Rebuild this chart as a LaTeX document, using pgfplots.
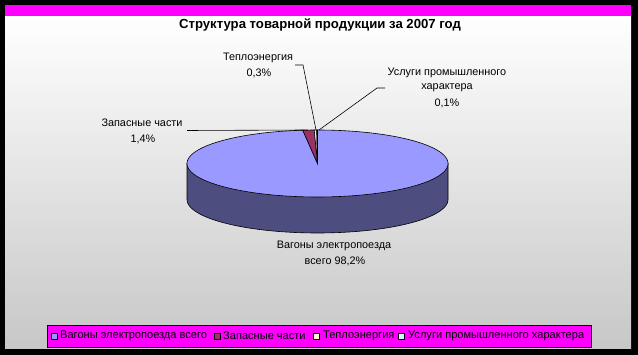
\documentclass[border=0pt]{standalone}
\usepackage{pgfplots}
\pgfplotsset{compat=1.18}
\usepackage{pgfplotstable}
\usepackage{fontspec}
\setmainfont{Liberation Sans}
\definecolor{wag}{HTML}{9999FF}
\definecolor{wagside}{HTML}{4D4D80}
\definecolor{parts}{HTML}{993366}
\definecolor{heat}{HTML}{FFFFCC}
\definecolor{serv}{HTML}{CCFFFF}
\definecolor{mag}{HTML}{FF00FF}
\pgfplotstableread{
id value
0 98.2
1 1.4
2 0.3
3 0.1
}\piedata
\begin{document}
\begin{tikzpicture}
\pgfplotstablegetelem{0}{value}\of\piedata \let\vA\pgfplotsretval
\pgfplotstablegetelem{1}{value}\of\piedata \let\vB\pgfplotsretval
\pgfplotstablegetelem{2}{value}\of\piedata \let\vC\pgfplotsretval
\pgfplotstablegetelem{3}{value}\of\piedata \let\vD\pgfplotsretval
\pgfmathsetmacro\aA{90-3.6*\vA}
\pgfmathsetmacro\aB{\aA-3.6*\vB}
\pgfmathsetmacro\aC{\aB-3.6*\vC}
\pgfmathsetmacro\aD{\aC-3.6*\vD}
\def\cx{317.5}\def\cy{191.5}\def\rx{130.5}\def\ry{33.5}\def\dd{36}
\pgfmathsetmacro\xl{\cx-\rx}
\pgfmathsetmacro\xr{\cx+\rx}
\def\lbl{\fontsize{10.9}{13}\selectfont}
\def\lgd{\fontsize{11.1}{13}\selectfont}
\begin{axis}[width=638bp,height=355bp,scale only axis,
  xmin=0,xmax=638,ymin=0,ymax=355,hide axis,clip=false]
% background
\fill[black] (axis cs:0,0) rectangle (axis cs:638,355);
\shade[top color=white,bottom color=black!22] (axis cs:5,6) rectangle (axis cs:631,339);
\fill[mag] (axis cs:5,339) rectangle (axis cs:631,350);
% title
\node[font=\bfseries\fontsize{13.2}{15}\selectfont] at (axis cs:320,330) {Структура товарной продукции за 2007 год};
% pie side
\addplot[fill=wagside, draw=black, line width=0.6bp, domain=180:360, samples=90]
  ({\cx+\rx*cos(x)},{\cy-\dd+\ry*sin(x)}) -- (axis cs:\xr,\cy) -- (axis cs:\xl,\cy) -- cycle;
% pie top
\addplot[fill=wag, draw=black, line width=0.6bp, domain=\aA:90, samples=180]
  ({\cx+\rx*cos(x)},{\cy+\ry*sin(x)}) -- (axis cs:\cx,\cy) -- cycle;
\addplot[fill=parts, draw=black, line width=0.6bp, domain=\aB:\aA, samples=10]
  ({\cx+\rx*cos(x)},{\cy+\ry*sin(x)}) -- (axis cs:\cx,\cy) -- cycle;
\addplot[fill=heat, draw=black, line width=0.6bp, domain=\aC:\aB, samples=5]
  ({\cx+\rx*cos(x)},{\cy+\ry*sin(x)}) -- (axis cs:\cx,\cy) -- cycle;
\addplot[fill=serv, draw=black, line width=0.6bp, domain=\aD:\aC, samples=3]
  ({\cx+\rx*cos(x)},{\cy+\ry*sin(x)}) -- (axis cs:\cx,\cy) -- cycle;
% leader lines
\draw[black, line width=0.6bp] (axis cs:295,290) -- (axis cs:303,290) -- (axis cs:316,225);
\draw[black, line width=0.6bp] (axis cs:385,267) -- (axis cs:377,267) -- (axis cs:319,225);
\draw[black, line width=0.6bp] (axis cs:187,224.5) -- (axis cs:308,225);
% labels
\node[font=\lbl] at (axis cs:258,297) {Теплоэнергия};
\node[font=\lbl] at (axis cs:259,282) {0,3\%};
\node[font=\lbl] at (axis cs:447,282) {Услуги промышленного};
\node[font=\lbl] at (axis cs:447,267) {характера};
\node[font=\lbl] at (axis cs:447,252) {0,1\%};
\node[font=\lbl] at (axis cs:142,232) {Запасные части};
\node[font=\lbl] at (axis cs:143,216) {1,4\%};
\node[font=\lbl] at (axis cs:334,109) {Вагоны электропоезда};
\node[font=\lbl] at (axis cs:335,94) {всего 98,2\%};
% legend
\filldraw[fill=mag, draw=black, line width=0.8bp] (axis cs:47,30) rectangle (axis cs:591,8);
\filldraw[fill=wag, draw=black, line width=0.6bp] (axis cs:51,16) rectangle (axis cs:57,22);
\filldraw[fill=parts, draw=black, line width=0.6bp] (axis cs:214,16) rectangle (axis cs:220,22);
\filldraw[fill=heat, draw=black, line width=0.6bp] (axis cs:313,16) rectangle (axis cs:319,22);
\filldraw[fill=serv, draw=black, line width=0.6bp] (axis cs:398,16) rectangle (axis cs:404,22);
\node[font=\lgd, anchor=west, inner sep=0pt] at (axis cs:60,19) {Вагоны электропоезда всего};
\node[font=\lgd, anchor=west, inner sep=0pt] at (axis cs:223,19) {Запасные части};
\node[font=\lgd, anchor=west, inner sep=0pt] at (axis cs:323,19) {Теплоэнергия};
\node[font=\lgd, anchor=west, inner sep=0pt] at (axis cs:408,19) {Услуги промышленного характера};
\end{axis}
\end{tikzpicture}
\end{document}
